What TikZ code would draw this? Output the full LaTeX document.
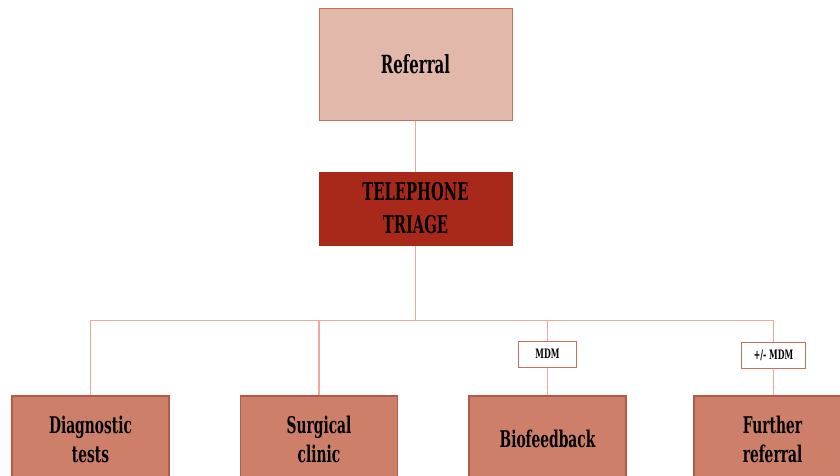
\documentclass[tikz,border=0pt]{standalone}
\usepackage{fontspec}
\setmainfont{DejaVu Serif}[FakeStretch=0.6]
\definecolor{reffill}{HTML}{E2B8AA}
\definecolor{refdraw}{HTML}{C8705E}
\definecolor{triagefill}{HTML}{A8281A}
\definecolor{boxfill}{HTML}{CD7F6A}
\definecolor{boxdraw}{HTML}{B35A48}
\definecolor{linec}{HTML}{F2A898}
\tikzset{
  box/.style={rectangle, inner sep=0pt, align=center, font=\bfseries},
  topbox/.style={box, fill=reffill, draw=refdraw, line width=1pt, minimum width=193pt, minimum height=112pt, font=\fontsize{25}{30}\selectfont\bfseries},
  triagebox/.style={box, fill=triagefill, draw=triagefill, line width=1pt, minimum width=193pt, minimum height=73pt, font=\fontsize{24.5}{33}\selectfont\bfseries},
  leafbox/.style={box, fill=boxfill, draw=boxdraw, line width=1.3pt, minimum width=157pt, minimum height=86pt, font=\fontsize{23}{29}\selectfont\bfseries},
  tagbox/.style={box, fill=white, draw=refdraw, line width=1pt, minimum height=26pt, font=\fontsize{13}{15}\selectfont\bfseries},
  conn/.style={draw=linec, line width=1.4pt}
}
\begin{document}
\begin{tikzpicture}[x=1pt,y=-1pt]
\useasboundingbox (0,0) rectangle (840,475);
\clip (0,0) rectangle (840,475);
\node[topbox] (ref) at (415.5,64) {Referral};
\node[triagebox] (tri) at (415.5,208.5) {TELEPHONE\\TRIAGE};
\node[leafbox] (diag) at (90.5,439) {Diagnostic\\tests};
\node[leafbox] (surg) at (319,439) {Surgical\\clinic};
\node[leafbox] (bio) at (547.5,439) {Biofeedback};
\node[leafbox] (fur) at (772.5,439) {Further\\referral};
\node[tagbox, minimum width=58pt] (mdm) at (547.5,354) {MDM};
\node[tagbox, minimum width=64pt] (pmdm) at (773.5,355) {+/- MDM};
\coordinate (hub) at (415.5,320.5);
\draw[conn] (ref.south) -- (tri.north);
\draw[conn] (tri.south) -- (hub);
\draw[conn] (diag.north) |- (hub);
\draw[conn] (surg.north) |- (hub);
\draw[conn] (mdm.north) |- (hub);
\draw[conn] (pmdm.north) |- (hub);
\draw[conn] (mdm.south) -- (bio.north);
\draw[conn] (pmdm.south) -- (pmdm.south |- fur.north);
\end{tikzpicture}
\end{document}
